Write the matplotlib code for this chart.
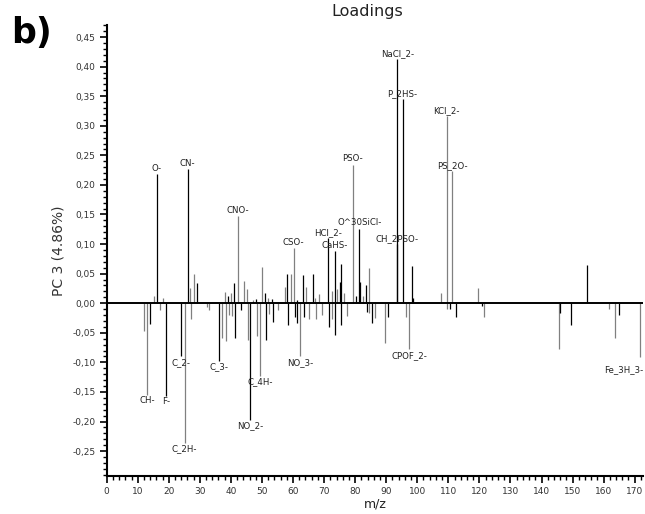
import matplotlib
matplotlib.use('Agg')
import matplotlib.pyplot as plt
from matplotlib.ticker import MultipleLocator, FuncFormatter

# peak positions (m/z), PC3 loadings and stem shade ('k' black, 'g' gray)
mz = [12.1, 13.1, 14.0, 15.1, 16.1, 17.1, 18.0, 19.2, 24.0, 25.1,
      26.1, 26.9, 27.2, 28.1, 29.2, 32.2, 33.0, 36.2, 37.1, 38.0,
      38.3, 39.1, 39.4, 40.1, 40.4, 41.0, 41.3, 42.2, 43.3, 44.2,
      45.2, 45.5, 46.2, 47.2, 48.0, 48.3, 49.3, 50.1, 51.1, 51.4,
      52.1, 52.4, 53.2, 53.4, 55.3, 57.3, 58.1, 58.4, 59.3, 60.2,
      60.5, 61.2, 61.4, 62.3, 63.2, 63.5, 64.3, 65.2, 66.3, 67.2,
      67.4, 68.4, 69.3, 71.3, 71.5, 72.4, 72.6, 73.4, 73.6, 74.3,
      75.2, 75.4, 75.6, 76.4, 77.5, 79.2, 80.3, 81.3, 81.6, 82.4,
      83.5, 83.7, 84.4, 84.6, 85.5, 86.3, 89.5, 90.6, 93.6, 93.6,
      95.3, 96.5, 97.4, 98.3, 98.5, 107.5, 109.5, 109.7, 110.6, 111.3,
      112.5, 119.7, 120.7, 121.6, 145.6, 145.8, 149.6, 154.6, 161.8, 163.8,
      164.9, 171.8]
loading = [-0.047, -0.155, -0.035, 0.013, 0.218, -0.011, 0.008, -0.156, -0.090, -0.236,
           0.227, 0.025, -0.027, 0.050, 0.034, -0.007, -0.011, -0.098, -0.058, 0.019,
           -0.064, 0.012, -0.020, 0.017, -0.022, 0.034, -0.058, 0.147, -0.011, 0.038,
           0.024, -0.063, -0.197, 0.005, 0.007, -0.055, -0.123, 0.062, 0.017, -0.062,
           0.009, -0.019, 0.007, -0.032, -0.011, 0.028, 0.050, -0.036, 0.049, 0.093,
           -0.024, 0.005, -0.034, -0.090, 0.047, -0.024, 0.027, -0.026, 0.049, 0.008,
           -0.026, 0.015, -0.020, 0.110, -0.040, 0.021, -0.027, 0.088, -0.054, 0.024,
           0.036, 0.066, -0.037, 0.017, -0.022, 0.234, 0.012, 0.126, 0.036, 0.012,
           0.030, -0.015, 0.059, -0.016, -0.034, -0.025, -0.068, -0.024, 0.100, 0.412,
           0.345, -0.024, -0.078, 0.063, 0.008, 0.017, 0.316, -0.009, -0.010, 0.223,
           -0.024, 0.025, -0.005, -0.024, -0.077, -0.016, -0.037, 0.064, -0.009, -0.058,
           -0.020, -0.091]
shade = ['g', 'g', 'k', 'g', 'k', 'g', 'g', 'k', 'k', 'g',
         'k', 'g', 'g', 'g', 'k', 'g', 'g', 'k', 'g', 'g',
         'g', 'k', 'g', 'g', 'g', 'k', 'k', 'g', 'k', 'g',
         'g', 'g', 'k', 'g', 'k', 'g', 'g', 'g', 'k', 'k',
         'g', 'g', 'k', 'k', 'g', 'g', 'k', 'k', 'g', 'g',
         'k', 'k', 'k', 'g', 'k', 'k', 'g', 'g', 'k', 'g',
         'g', 'g', 'g', 'k', 'k', 'g', 'g', 'k', 'k', 'g',
         'k', 'k', 'k', 'g', 'g', 'g', 'k', 'k', 'k', 'g',
         'k', 'k', 'g', 'g', 'k', 'g', 'g', 'k', 'k', 'k',
         'k', 'g', 'g', 'k', 'k', 'g', 'g', 'g', 'k', 'g',
         'k', 'g', 'k', 'g', 'g', 'k', 'k', 'k', 'g', 'g',
         'k', 'g']

# annotated peaks: name -> index into the arrays above
peak_names = ['CH-', 'O-', 'F-', 'C_2-', 'C_2H-', 'CN-', 'C_3-', 'CNO-',
              'NO_2-', 'C_4H-', 'CSO-', 'NO_3-', 'HCl_2-', 'CaHS-', 'PSO-',
              'O^30SiCl-', 'CH_2PSO-', 'NaCl_2-', 'P_2HS-', 'CPOF_2-',
              'KCl_2-', 'PS_2O-', 'Fe_3H_3-']
peak_index = [1, 4, 7, 8, 9, 10, 17, 27,
              32, 36, 49, 53, 63, 67, 75,
              77, 88, 89, 90, 92,
              96, 99, 111]

shade_colors = {'k': '#000000', 'g': '#808080'}


def comma(v, pos):
    return f'{v:.2f}'.replace('.', ',')


def plot_loadings() -> None:
    fig = plt.figure(figsize=(6.45, 5.14), dpi=100)
    ax = fig.add_axes([0.1654, 0.074, 0.8316, 0.877])

    ax.vlines(mz, 0, loading, colors=[shade_colors[s] for s in shade],
              linewidth=0.9)
    ax.axhline(0, color='black', linewidth=1.4, zorder=3)

    for name, i in zip(peak_names, peak_index):
        x, y = mz[i], loading[i]
        if name == 'Fe_3H_3-':
            ax.annotate(name, (x, y), xytext=(2, -6), textcoords='offset points',
                        ha='right', va='top', fontsize=6.2, color='#222222')
        elif y > 0:
            ax.annotate(name, (x, y), xytext=(0, 1), textcoords='offset points',
                        ha='center', va='bottom', fontsize=6.2, color='#222222')
        else:
            ax.annotate(name, (x, y), xytext=(0, -1), textcoords='offset points',
                        ha='center', va='top', fontsize=6.2, color='#222222')

    ax.set_xlim(0, 172.7)
    ax.set_ylim(-0.292, 0.47)
    ax.xaxis.set_major_locator(MultipleLocator(10))
    ax.xaxis.set_minor_locator(MultipleLocator(2))
    ax.yaxis.set_major_locator(MultipleLocator(0.05))
    ax.yaxis.set_minor_locator(MultipleLocator(0.01))
    ax.yaxis.set_major_formatter(FuncFormatter(comma))

    for side in ['top', 'right']:
        ax.spines[side].set_visible(False)
    for side in ['left', 'bottom']:
        ax.spines[side].set_linewidth(1.5)
    ax.tick_params(which='major', direction='out', length=5, width=1.2,
                   labelsize=6.5, labelcolor='#333333', pad=3)
    ax.tick_params(which='minor', direction='out', length=3, width=1)

    ax.set_xlabel('m/z', fontsize=9, color='#222222', labelpad=1)
    ax.set_ylabel('PC 3 (4.86%)', fontsize=10, color='#333333', labelpad=5)

    fig.text(0.569, 0.968, 'Loadings', ha='center', va='baseline',
             fontsize=11.5, color='#222222')
    fig.text(0.018, 0.916, 'b)', ha='left', va='baseline',
             fontsize=25, fontweight='bold')

    fig.savefig('out.png', dpi=100)


def main():
    plot_loadings()


if __name__ == '__main__':
    main()
